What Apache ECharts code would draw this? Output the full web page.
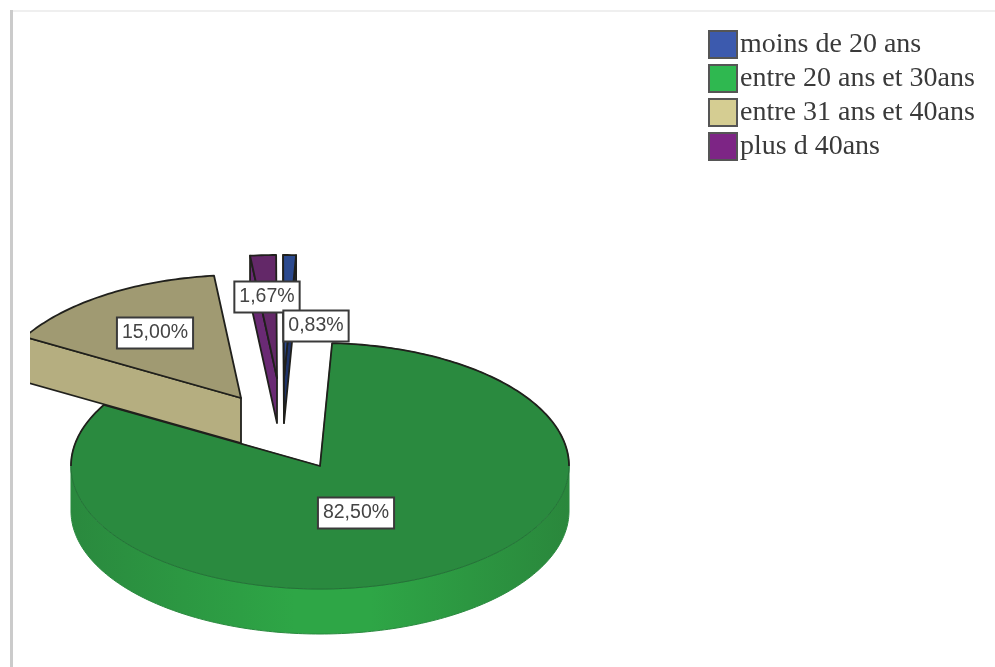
<!DOCTYPE html>
<html>
<head>
<meta charset="utf-8">
<style>html,body{margin:0;padding:0;background:#fff}#chart{width:995px;height:667px}</style>
<script src="https://cdn.jsdelivr.net/npm/echarts@6/dist/echarts.min.js"></script>
</head>
<body>
<div id="chart"></div>
<script>
// Age groups and their shares of respondents, in percent
const categories = ['moins de 20 ans', 'entre 20 ans et 30ans', 'entre 31 ans et 40ans', 'plus d 40ans'];
const shares = [0.83, 82.50, 15.00, 1.67];

// Look of each slice: top face, wall and legend swatch
const topColors = ['#2c4a8e', '#2a8a3f', '#a09a72', '#632868'];
const wallColors = ['#1f3368', null, '#b5ae80', '#6a2a74'];
const swatchColors = ['#3c5aae', '#2fb850', '#d5cd92', '#7d2585'];

// Pie geometry in pixels, relative to the pie centre
const radiusX = 249;
const radiusY = 123;
const depth = 45;
const startAngle = -0.2;
const sliceOffsets = [[-36, -88], [0, 0], [-79, -68], [-43, -88]];
const labelOffsets = [[-4, -140], [36, 47], [-165, -133], [-53, -169]];
const sliceLayers = [4, 1, 2, 3];
const labelOrder = [2, 1, 3, 0];
const edgeColor = '#20201c';
const edgeWidth = 1.8;

const rad = d => d * Math.PI / 180;
const rimPoint = (t, ox, oy, drop) => [
  ox + radiusX * Math.sin(rad(t)),
  oy - radiusY * Math.cos(rad(t)) + drop
];
const arcPoints = (from, to, ox, oy, drop) => {
  const pts = [];
  const steps = Math.max(2, Math.ceil(Math.abs(to - from)));
  for (let i = 0; i <= steps; i++) pts.push(rimPoint(from + (to - from) * i / steps, ox, oy, drop));
  return pts;
};
const sliceStart = idx => {
  let from = startAngle;
  for (let i = 0; i < idx; i++) from += shares[i] / 100 * 360;
  return from;
};
const frontGradient = {
  type: 'linear', x: 0, y: 0, x2: 1, y2: 0,
  colorStops: [
    { offset: 0, color: '#2a893e' },
    { offset: 0.45, color: '#2ea646' },
    { offset: 0.6, color: '#2ea646' },
    { offset: 1, color: '#2a873c' }
  ]
};

function renderSlice(idx, params, api) {
  const share = api.value(2);
  const from = sliceStart(idx);
  const to = from + share / 100 * 360;
  const [ox, oy] = sliceOffsets[idx];
  const toPx = pts => pts.map(p => api.coord(p));
  const apex = [ox, oy];
  const apexLow = [ox, oy + depth];
  const children = [];

  // Walls first, so the top face and its outline sit on them
  const wall = (pts, fill, stroke) => children.push({
    type: 'polygon', shape: { points: toPx(pts) },
    style: { fill, stroke: stroke || edgeColor, lineWidth: stroke ? 1 : edgeWidth, lineJoin: 'round' }
  });
  const norm = a => ((a % 360) + 360) % 360;
  if (norm(from) > 180 && wallColors[idx]) {
    const rim = rimPoint(from, ox, oy, 0);
    wall([rim, apex, apexLow, [rim[0], rim[1] + depth]], wallColors[idx]);
  }
  if (norm(to) > 0 && norm(to) < 180 && wallColors[idx]) {
    const rim = rimPoint(to, ox, oy, 0);
    wall([rim, apex, apexLow, [rim[0], rim[1] + depth]], wallColors[idx]);
  }
  const frontFrom = Math.max(from, 90);
  const frontTo = Math.min(to, 270);
  const front = frontTo > frontFrom;
  if (front) {
    const upper = arcPoints(frontFrom, frontTo, ox, oy, 0);
    const lower = arcPoints(frontTo, frontFrom, ox, oy, depth);
    wall(upper.concat(lower), frontGradient, '#2a8a3f');
  }

  const outerArc = arcPoints(from, to, ox, oy, 0);
  children.push({
    type: 'polygon', shape: { points: toPx([apex].concat(outerArc)) },
    style: { fill: topColors[idx], stroke: front ? '#257238' : edgeColor, lineWidth: front ? 1 : edgeWidth, lineJoin: 'round' }
  });
  if (front) {
    // The back of the big slice carries the dark outline; the front rim stays soft
    const back = arcPoints(270, to, ox, oy, 0).concat([apex], arcPoints(from, 90, ox, oy, 0));
    children.push({
      type: 'polyline', shape: { points: toPx(back) },
      style: { fill: 'none', stroke: edgeColor, lineWidth: edgeWidth, lineJoin: 'round' }
    });
  }
  return { type: 'group', children };
}

function renderLabel(params, api) {
  const idx = api.value(2);
  const p = api.coord(labelOffsets[idx]);
  return {
    type: 'text', z2: params.dataIndex,
    x: p[0], y: p[1],
    style: {
      text: shares[idx].toFixed(2).replace('.', ',') + '%',
      font: '19.5px "Liberation Sans"',
      fill: '#444',
      align: 'center', verticalAlign: 'middle',
      backgroundColor: '#fff', borderColor: '#3a3a3a', borderWidth: 2,
      padding: [5, 4, 4, 4]
    }
  };
}

const chart = echarts.init(document.getElementById('chart'), null, { renderer: 'canvas' });
const sliceSeries = categories.map((name, idx) => ({
  name,
  type: 'custom',
  coordinateSystem: 'cartesian2d',
  clip: true,
  silent: true,
  z: sliceLayers[idx],
  animation: false,
  data: [[0, 0, shares[idx]]],
  renderItem: (params, api) => renderSlice(idx, params, api)
}));

chart.setOption({
  animation: false,
  backgroundColor: '#fff',
  grid: { left: 30, right: 0, top: 0, bottom: 0 },
  xAxis: { type: 'value', show: false, min: -290, max: 675 },
  yAxis: { type: 'value', show: false, inverse: true, min: -466, max: 201 },
  legend: {
    orient: 'vertical', left: 703, top: 25,
    itemWidth: 28, itemHeight: 27, itemGap: 5,
    selectedMode: false,
    icon: 'rect',
    textStyle: { fontFamily: 'Liberation Serif', fontSize: 28, lineHeight: 21, color: '#3a3a3a', padding: [6, 0, 0, -2] },
    data: categories.map((name, i) => ({
      name,
      itemStyle: { color: swatchColors[i], borderColor: '#555', borderWidth: 2 }
    }))
  },
  graphic: [
    { type: 'rect', silent: true, shape: { x: 10, y: 10, width: 3, height: 657 }, style: { fill: '#cbcbcb' } },
    { type: 'rect', silent: true, shape: { x: 13, y: 10, width: 982, height: 2 }, style: { fill: '#efefef' } }
  ],
  series: sliceSeries.concat({
    name: 'labels',
    type: 'custom',
    coordinateSystem: 'cartesian2d',
    clip: false,
    silent: true,
    z: 10,
    animation: false,
    data: labelOrder.map(i => [0, 0, i]),
    renderItem: renderLabel
  })
});
</script>
</body>
</html>
